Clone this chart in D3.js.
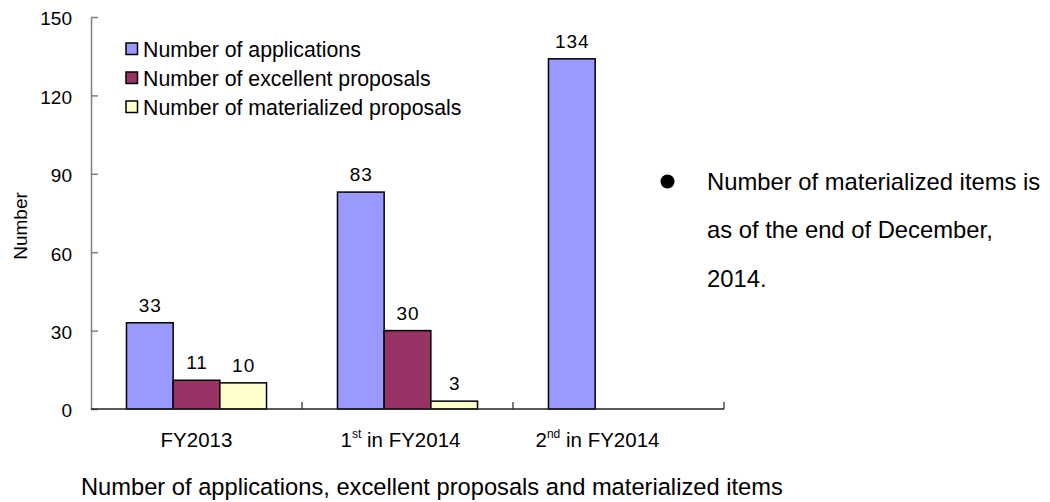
<!DOCTYPE html>
<html>
<head>
<meta charset="utf-8">
<script src="https://cdn.jsdelivr.net/npm/d3@7"></script>
<style>
  html, body { margin: 0; padding: 0; background: #fff; }
  svg { display: block; font-family: Arial, "Liberation Sans", sans-serif; }
</style>
</head>
<body>
<svg id="chart" width="1050" height="502"></svg>
<script>
// ---- data ----
const categories = ["FY2013", "1st in FY2014", "2nd in FY2014"];
const categoryMain = ["FY2013", "1", "2"];
const categorySup = ["", "st", "nd"];
const categoryRest = ["", " in FY2014", " in FY2014"];
const seriesNames = ["Number of applications", "Number of excellent proposals", "Number of materialized proposals"];
const applications = [33, 83, 134];
const excellent = [11, 30, null];
const materialized = [10, 3, null];
const yTicks = [0, 30, 60, 90, 120, 150];
const noteLines = ["Number of materialized items is", "as of the end of December,", "2014."];
const xTitle = "Number of applications, excellent proposals and materialized items";
const yTitle = "Number";

// ---- layout / style ----
const colors = ["#9999FF", "#993366", "#FFFFCC"];
const svg = d3.select("#chart");
const plotLeft = 91, plotRight = 724, plotTop = 17, plotBottom = 409;

const x = d3.scaleBand().domain(categories).range([plotLeft, plotRight]).padding(0);
const xs = d3.scaleBand().domain(seriesNames).range([0, x.bandwidth()]).paddingInner(0).paddingOuter(0.76);
const y = d3.scaleLinear().domain([0, 150]).range([plotBottom, plotTop]);

const seriesData = [applications, excellent, materialized];

// bars
const g = svg.append("g");
seriesData.forEach((vals, si) => {
  const pts = categories.map((c, ci) => ({c, v: vals[ci]})).filter(d => d.v != null);
  g.selectAll(null).data(pts).enter().append("rect")
    .attr("x", d => x(d.c) + xs(seriesNames[si]))
    .attr("y", d => y(d.v))
    .attr("width", xs.bandwidth())
    .attr("height", d => y(0) - y(d.v))
    .attr("fill", colors[si])
    .attr("stroke", "#000")
    .attr("stroke-width", 1.5);
  g.selectAll(null).data(pts).enter().append("text")
    .attr("x", d => x(d.c) + xs(seriesNames[si]) + xs.bandwidth() / 2 + 0.5)
    .attr("y", d => y(d.v) - 11)
    .attr("text-anchor", "middle")
    .attr("font-size", 19)
    .attr("letter-spacing", 1)
    .attr("fill", "#000")
    .text(d => d.v);
});

// y axis
const yAxis = d3.axisLeft(y).tickValues(yTicks).tickSizeInner(-7).tickSizeOuter(0).tickPadding(19);
const yg = svg.append("g").attr("transform", `translate(${plotLeft},0)`).call(yAxis);
yg.select(".domain").attr("stroke", "#808080").attr("stroke-width", 1.5);
yg.selectAll(".tick line").attr("stroke", "#808080").attr("stroke-width", 1.5);
yg.selectAll(".tick text").attr("font-size", 19).attr("font-family", "Arial, 'Liberation Sans', sans-serif").attr("fill", "#000").attr("dy", "0.42em");

// x axis
const xg = svg.append("g").attr("transform", `translate(0,${plotBottom})`);
xg.append("line").attr("x1", plotLeft).attr("x2", plotRight).attr("y1", 0).attr("y2", 0).attr("stroke", "#222").attr("stroke-width", 1.5);
const xTickPos = categories.map(c => x(c)).concat([x(categories[categories.length - 1]) + x.bandwidth()]);
xg.selectAll(null).data(xTickPos.slice(1)).enter().append("line")
  .attr("x1", d => d).attr("x2", d => d).attr("y1", 0).attr("y2", -7)
  .attr("stroke", "#222").attr("stroke-width", 1.2);

const labelNudge = [0, -7, -21];
categories.forEach((c, i) => {
  const t = xg.append("text")
    .attr("x", x(c) + x.bandwidth() / 2 + labelNudge[i])
    .attr("y", 38)
    .attr("text-anchor", "middle")
    .attr("font-size", 20.5)
    .attr("fill", "#000");
  t.append("tspan").text(categoryMain[i]);
  if (categorySup[i]) {
    t.append("tspan").attr("font-size", 12).attr("dy", -9).text(categorySup[i]);
    t.append("tspan").attr("dy", 9).text(categoryRest[i]);
  }
});

// y title
svg.append("text")
  .attr("transform", `translate(27,226) rotate(-90)`)
  .attr("text-anchor", "middle")
  .attr("font-size", 19)
  .attr("fill", "#000")
  .text(yTitle);

// x title
svg.append("text")
  .attr("x", 81).attr("y", 495)
  .attr("font-size", 23.7)
  .attr("fill", "#000")
  .text(xTitle);

// legend
const lg = svg.append("g");
seriesNames.forEach((s, i) => {
  lg.append("rect")
    .attr("x", 126).attr("y", 43 + i * 29)
    .attr("width", 11.5).attr("height", 11.5)
    .attr("fill", colors[i]).attr("stroke", "#000").attr("stroke-width", 1.5);
  lg.append("text")
    .attr("x", 143).attr("y", 57 + i * 29)
    .attr("font-size", 21.3)
    .attr("fill", "#000")
    .text(s);
});

// note
svg.append("circle").attr("cx", 667.5).attr("cy", 181.5).attr("r", 7).attr("fill", "#000");
noteLines.forEach((l, i) => {
  svg.append("text")
    .attr("x", 707).attr("y", 190 + i * 48.3)
    .attr("font-size", 23.8)
    .attr("fill", "#000")
    .text(l);
});
</script>
</body>
</html>
